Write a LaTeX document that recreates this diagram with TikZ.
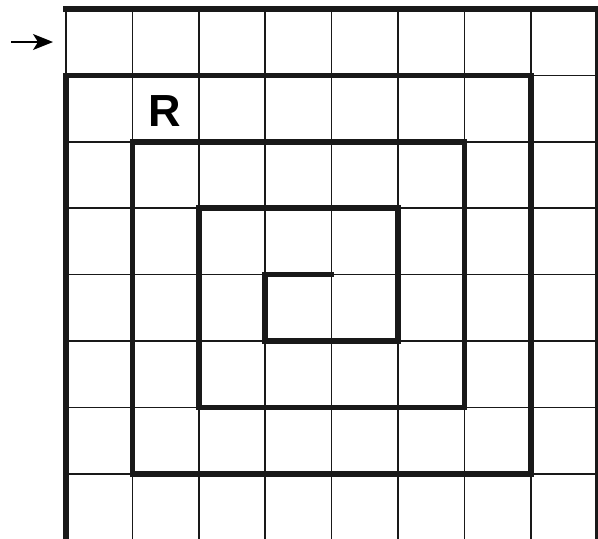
\documentclass[tikz,border=0pt]{standalone}
\usepackage{fontspec}
\setmainfont{Liberation Sans}
\usetikzlibrary{arrows.meta}
\begin{document}
\begin{tikzpicture}[x=1pt,y=-1pt,
  thinline/.style={line width=1.5pt,black!90},
  wall/.style={line width=5.5pt,black!90,line cap=rect,line join=miter},
  edge/.style={line width=2.5pt,black!90}]
\useasboundingbox (0,0) rectangle (598,539);
% grid
\foreach \x in {66,132.4,198.8,265.2,331.6,398,464.4,530.8}
  \draw[thinline] (\x,9) -- (\x,539);
\draw[edge] (596.5,9) -- (596.5,539);
\foreach \y in {9,75.4,141.8,208.2,274.6,341,407.4,473.8}
  \draw[thinline] (66,\y) -- (597,\y);
% walls
\draw[wall] (66,9) -- (597,9);
\draw[wall] (66,539) -- (66,75.4) -- (530.8,75.4) -- (530.8,473.8) -- (132.4,473.8)
  -- (132.4,141.8) -- (464.4,141.8) -- (464.4,407.4) -- (198.8,407.4)
  -- (198.8,208.2) -- (398,208.2) -- (398,341) -- (265.2,341) -- (265.2,274.6) -- (331.6,274.6);
% label
\node[font=\bfseries\fontsize{45}{45}\selectfont, inner sep=0pt] (R) at (164.5,111) {R};
% entry arrow
\coordinate (a1) at (11,42);
\coordinate (a2) at (53,42);
\draw[line width=1.4pt, -{Stealth[length=20pt,width=16pt,inset=5pt]}] (a1) -- (a2);
\end{tikzpicture}
\end{document}
